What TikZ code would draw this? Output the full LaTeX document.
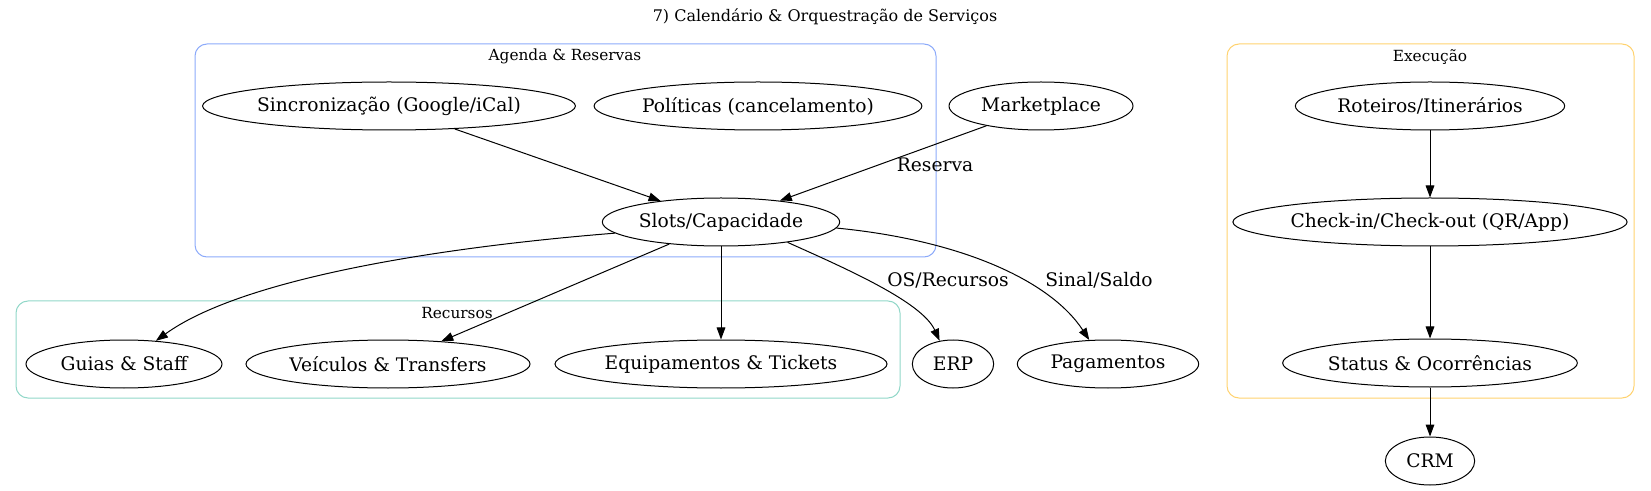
\documentclass[tikz,border=0pt]{standalone}
\usepackage{fontspec}
\setmainfont{DejaVu Serif}
\usetikzlibrary{arrows.meta,shapes.geometric}

\definecolor{agendablue}{RGB}{140,170,250}
\definecolor{recteal}{RGB}{145,215,200}
\definecolor{execyellow}{RGB}{255,210,110}

\begin{document}
\begin{tikzpicture}[
    x=0.75pt, y=-0.75pt,
    >={Triangle[length=9pt,width=6.5pt]},
    svc/.style={ellipse, draw, line width=0.75pt, inner xsep=0pt, inner ysep=2pt,
        minimum height=36pt, font=\fontsize{14}{16}\selectfont},
    cluster/.style={rounded corners=9pt, line width=0.75pt},
    cluster label/.style={font=\fontsize{11.5}{13}\selectfont},
    edge label/.style={font=\fontsize{14}{16}\selectfont, inner sep=0pt},
    flow/.style={->, line width=0.75pt},
]
\useasboundingbox (0,0) rectangle (1651,491);

% Title
\node[cluster label, font=\fontsize{12}{14}\selectfont] (title) at (825,17) {7) Calendário \& Orquestração de Serviços};

% Clusters
\draw[cluster, agendablue] (195,44) rectangle (936,257);
\node[cluster label] (lagenda) at (565,56) {Agenda \& Reservas};
\draw[cluster, recteal] (16,301) rectangle (900,398);
\node[cluster label] (lrecursos) at (457,313) {Recursos};
\draw[cluster, execyellow] (1227,44) rectangle (1634,398);
\node[cluster label] (lexec) at (1430,57) {Execução};

% Agenda & Reservas
\node[svc, minimum width=275pt] (sinc) at (389,106) {Sincronização (Google/iCal)};
\node[svc, minimum width=244pt] (polit) at (758,106) {Políticas (cancelamento)};
\node[svc, minimum width=178pt] (slots) at (721,222) {Slots/Capacidade};
\node[svc, minimum width=138pt] (market) at (1041,106) {Marketplace};

% Recursos
\node[svc, minimum width=147pt] (guias) at (124,364) {Guias \& Staff};
\node[svc, minimum width=213pt] (veic) at (388,364) {Veículos \& Transfers};
\node[svc, minimum width=249pt] (equip) at (721,364) {Equipamentos \& Tickets};
\node[svc, minimum width=61pt] (erp) at (953,364) {ERP};
\node[svc, minimum width=136pt] (pag) at (1108,364) {Pagamentos};

% Execucao
\node[svc, minimum width=202pt] (rot) at (1430,106) {Roteiros/Itinerários};
\node[svc, minimum width=290pt] (check) at (1430,222) {Check-in/Check-out (QR/App)};
\node[svc, minimum width=221pt] (status) at (1430,363) {Status \& Ocorrências};
\node[svc, minimum width=67pt] (crm) at (1430,461) {CRM};

% Edges
\draw[flow] (sinc) -- (slots);
\draw[flow] (market) -- (slots);
\draw[flow] (slots.186) .. controls (430,248) and (240,280) .. (guias.36);
\draw[flow] (slots) -- (veic);
\draw[flow] (slots) -- (equip);
\draw[flow] (slots.-17) .. controls (847,269) and (922,302) .. (erp.120);
\draw[flow] (slots.-3) .. controls (960,240) and (1050,280) .. (pag.128);
\draw[flow] (rot) -- (check);
\draw[flow] (check) -- (status);
\draw[flow] (status) -- (crm);

% Edge labels
\node[edge label] (lreserva) at (935,165) {Reserva};
\node[edge label] (los) at (948,280) {OS/Recursos};
\node[edge label] (lsinal) at (1099,280) {Sinal/Saldo};

\end{tikzpicture}
\end{document}
